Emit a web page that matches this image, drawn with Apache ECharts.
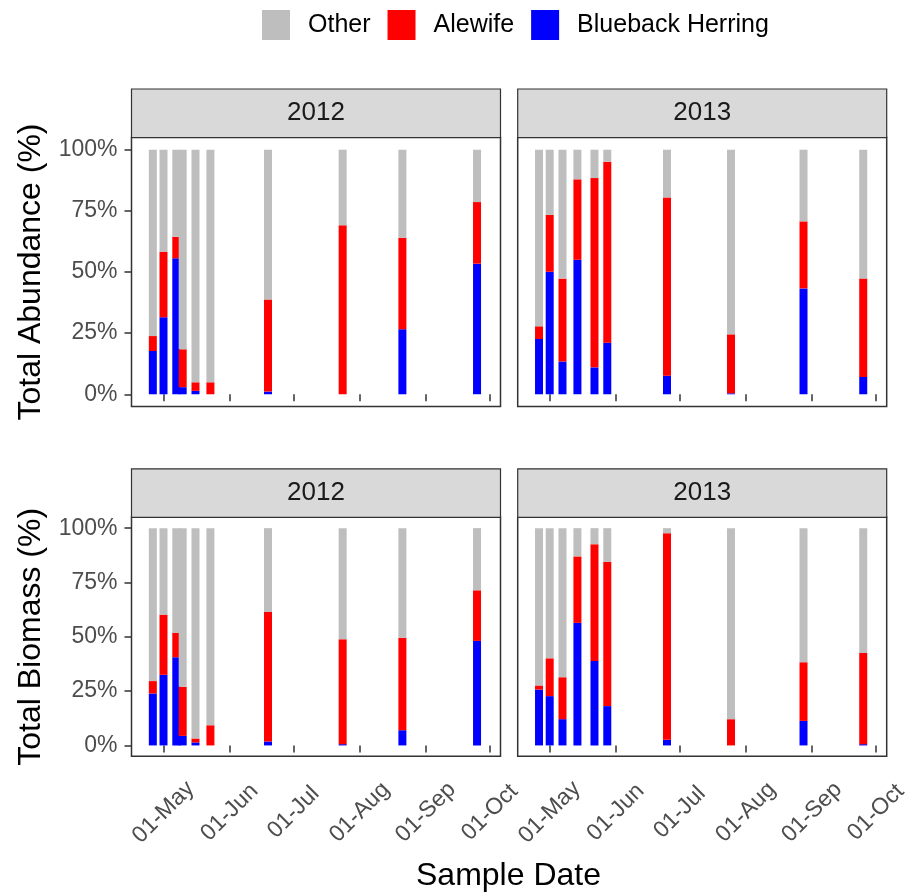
<!DOCTYPE html>
<html><head><meta charset="utf-8">
<script src="https://cdn.jsdelivr.net/npm/echarts@6/dist/echarts.min.js"></script>
<style>html,body{margin:0;padding:0;background:#fff}#c{width:914px;height:893px}</style>
</head><body><div id="c"></div>
<script>
// ---- data ----
const species = ['Other', 'Alewife', 'Blueback Herring'];
const years = ['2012', '2013'];
const dates2012 = ['2012-04-26','2012-05-01','2012-05-07','2012-05-10','2012-05-16','2012-05-23','2012-06-19','2012-07-24','2012-08-21','2012-09-25'];
const dates2013 = ['2013-04-26','2013-05-01','2013-05-07','2013-05-14','2013-05-22','2013-05-28','2013-06-25','2013-07-25','2013-08-28','2013-09-25'];

const abundBlueback2012 = [17.7, 31.5, 55.6, 2.9, 1.4, 0, 1.1, 0, 26.6, 53.4];
const abundAlewife2012  = [6.1, 26.8, 8.8, 15.5, 3.5, 4.9, 37.7, 69.1, 37.4, 25.2];
const abundOther2012    = [76.2, 41.7, 35.6, 81.6, 95.1, 95.1, 61.2, 30.9, 36.0, 21.4];

const abundBlueback2013 = [22.6, 50.1, 13.4, 55.0, 11.0, 21.1, 7.6, 0.4, 43.3, 7.1];
const abundAlewife2013  = [5.2, 23.3, 33.9, 32.9, 77.4, 74.0, 72.9, 24.1, 27.4, 40.2];
const abundOther2013    = [72.2, 26.6, 52.7, 12.1, 11.6, 4.9, 19.5, 75.5, 29.3, 52.7];

const bioBlueback2012 = [23.9, 32.5, 40.6, 4.4, 1.4, 0, 1.8, 0.6, 7.0, 48.1];
const bioAlewife2012  = [5.7, 27.7, 11.3, 22.6, 1.8, 9.3, 59.6, 48.3, 42.6, 23.3];
const bioOther2012    = [70.4, 39.8, 48.1, 73.0, 96.8, 90.7, 38.6, 51.1, 50.4, 28.6];

const bioBlueback2013 = [25.7, 22.7, 12.1, 56.4, 38.9, 18.1, 2.6, 0, 11.3, 0.6];
const bioAlewife2013  = [1.9, 17.4, 19.3, 30.6, 53.7, 66.4, 95.1, 12.1, 27.0, 42.0];
const bioOther2013    = [72.4, 59.9, 68.6, 13.0, 7.4, 15.5, 2.3, 87.9, 61.7, 57.4];

const xTickMonthDays = ['05-01','06-01','07-01','08-01','09-01','10-01'];
const xRange = ['04-16', '10-06'];
const yTickValues = [0, 25, 50, 75, 100];
const monthNames = ['Jan','Feb','Mar','Apr','May','Jun','Jul','Aug','Sep','Oct','Nov','Dec'];

// ---- helpers ----
function ts(s) { const p = s.split('-').map(Number); return new Date(p[0], p[1] - 1, p[2]).getTime(); }
const colors = { 'Other': '#bebebe', 'Alewife': '#ff0000', 'Blueback Herring': '#0000ff' };
const FONT = 'Liberation Sans, Arial, Helvetica, sans-serif';

const panels = [
  { year: '2012', dates: dates2012, vals: { 'Blueback Herring': abundBlueback2012, 'Alewife': abundAlewife2012, 'Other': abundOther2012 }, row: 0, col: 0, yname: 'Total Abundance (%)' },
  { year: '2013', dates: dates2013, vals: { 'Blueback Herring': abundBlueback2013, 'Alewife': abundAlewife2013, 'Other': abundOther2013 }, row: 0, col: 1 },
  { year: '2012', dates: dates2012, vals: { 'Blueback Herring': bioBlueback2012, 'Alewife': bioAlewife2012, 'Other': bioOther2012 }, row: 1, col: 0, yname: 'Total Biomass (%)' },
  { year: '2013', dates: dates2013, vals: { 'Blueback Herring': bioBlueback2013, 'Alewife': bioAlewife2013, 'Other': bioOther2013 }, row: 1, col: 1 }
];

const colLeft = [131.5, 517.7];
const panelW = 369;
const rowTop = [137.5, 517.3];
const rowH = [269, 239];
const stripH = 48.5;

const grids = [], xAxes = [], yAxes = [], series = [], graphics = [];
panels.forEach((p, i) => {
  const left = colLeft[p.col], top = rowTop[p.row], h = rowH[p.row];
  grids.push({ left: left, top: top, width: panelW, height: h, show: true, borderColor: '#333333', borderWidth: 1.5, backgroundColor: '#fff', containLabel: false });
  const ticks = xTickMonthDays.map(m => ts(p.year + '-' + m));
  xAxes.push({
    type: 'value', gridIndex: i,
    min: ts(p.year + '-' + xRange[0]), max: ts(p.year + '-' + xRange[1]),
    axisLine: { show: false },
    splitLine: { show: false },
    axisTick: { show: true, length: 7, lineStyle: { color: '#333333', width: 1.5 }, customValues: ticks },
    axisLabel: {
      show: p.row === 1, rotate: 45, margin: 56, align: 'center', verticalAlign: 'middle',
      fontSize: 23, color: '#4d4d4d', fontFamily: FONT,
      customValues: ticks,
      formatter: v => { const d = new Date(v); return String(d.getDate()).padStart(2, '0') + '-' + monthNames[d.getMonth()]; }
    }
  });
  yAxes.push({
    type: 'value', gridIndex: i, min: -5, max: 105,
    axisLine: { show: false }, splitLine: { show: false },
    axisTick: { show: p.col === 0, length: 7, lineStyle: { color: '#333333', width: 1.5 }, customValues: yTickValues },
    axisLabel: { show: p.col === 0, margin: 14, fontSize: 23, color: '#4d4d4d', fontFamily: FONT, customValues: yTickValues, formatter: v => v + '%' },
    name: p.col === 0 ? p.yname : '', nameLocation: 'middle', nameGap: 84, nameRotate: 90,
    nameTextStyle: { fontSize: 32, color: '#000', fontFamily: FONT }
  });
  ['Blueback Herring', 'Alewife', 'Other'].forEach(sp => {
    series.push({
      name: sp, type: 'bar', xAxisIndex: i, yAxisIndex: i, stack: 'g' + i, barWidth: 8,
      itemStyle: { color: colors[sp] }, emphasis: { disabled: true },
      // value first so that the percentage dimension is the stacked one
      encode: { x: 1, y: 0 },
      data: p.dates.map((d, j) => [p.vals[sp][j], ts(d)])
    });
  });
  graphics.push({ type: 'rect', shape: { x: left, y: top - stripH, width: panelW, height: stripH }, style: { fill: '#d9d9d9', stroke: '#333333', lineWidth: 1.2 } });
  graphics.push({ type: 'text', x: left + panelW / 2, y: top - stripH / 2, style: { text: p.year, fontSize: 26, fill: '#1a1a1a', fontFamily: FONT, align: 'center', verticalAlign: 'middle' } });
});
graphics.push({ type: 'text', x: 508.5, y: 876, style: { text: 'Sample Date', fontSize: 32, fill: '#000', fontFamily: FONT, align: 'center', verticalAlign: 'middle' } });

const chart = echarts.init(document.getElementById('c'), null, { renderer: 'canvas' });
chart.setOption({
  animation: false,
  backgroundColor: '#fff',
  legend: {
    data: species, left: 262, top: 10, padding: 0, icon: 'rect', itemWidth: 28, itemHeight: 30, itemGap: 17,
    textStyle: { fontSize: 25, color: '#000', fontFamily: FONT, padding: [0, 0, 0, 13] },
    selectedMode: false
  },
  grid: grids, xAxis: xAxes, yAxis: yAxes, series: series, graphic: graphics
});
</script></body></html>
